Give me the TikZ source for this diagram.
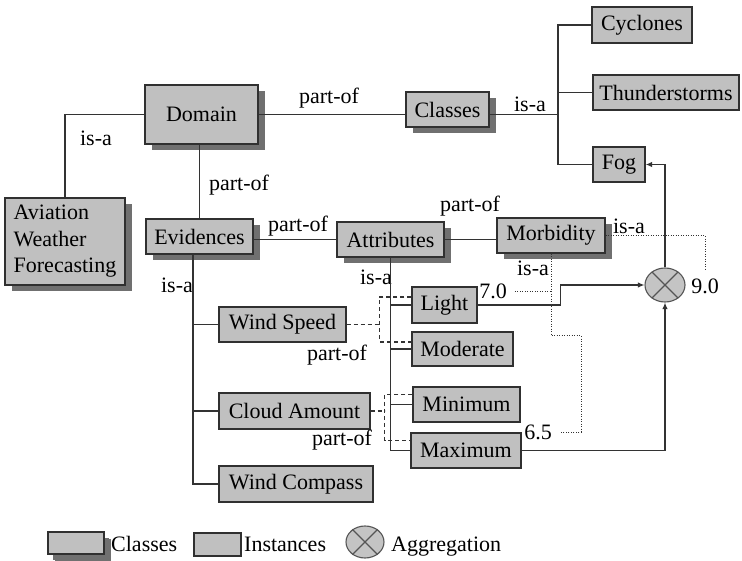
\documentclass[tikz,border=0pt]{standalone}
\usepackage{fontspec}
\setmainfont{Liberation Serif}
\usetikzlibrary{shadows,shapes.geometric,arrows.meta}
\definecolor{boxfill}{HTML}{C0C0C0}
\definecolor{boxedge}{HTML}{303030}
\definecolor{shade}{HTML}{707070}
\definecolor{wire}{HTML}{333333}
\definecolor{aggfill}{HTML}{C4C4C4}
\definecolor{aggedge}{HTML}{555555}

\tikzset{
  base/.style={draw=boxedge, line width=1.4pt, fill=boxfill, inner sep=0pt,
               font=\fontsize{22}{26.5}\selectfont},
  inst/.style={base},
  cls/.style={base, drop shadow={shadow xshift=6.5pt, shadow yshift=-6.5pt,
               fill=shade, opacity=1}},
  aggnode/.style={ellipse, draw=aggedge, line width=1.1pt, fill=aggfill, inner sep=0pt},
  crossline/.style={draw=aggedge, line width=1.1pt},
  lbl/.style={inner sep=0pt, font=\fontsize{22}{24}\selectfont},
  link/.style={draw=wire, line width=1.2pt},
  dashlink/.style={draw=wire, line width=1.1pt, dash pattern=on 4pt off 3pt},
  dotlink/.style={draw=wire, line width=0.9pt, dash pattern=on 1pt off 1.5pt},
  arr/.style={link, -{Latex[length=6.5pt,width=5.5pt]}},
}

\begin{document}
\begin{tikzpicture}[x=1pt,y=-1pt]
\useasboundingbox (0,0) rectangle (742,561);
\fill[white] (0,0) rectangle (742,561);

% ---- classes (shadowed boxes) ----
\node[cls, minimum width=113, minimum height=59] (domain) at (201.5,114.5) {Domain};
\node[cls, minimum width=120, minimum height=87, align=left] (avi) at (65,241.5)
  {Aviation\\Weather\\Forecasting};
\node[cls, minimum width=83, minimum height=35] (classes) at (447.5,109.5) {Classes};
\node[cls, minimum width=107, minimum height=35] (evid) at (199.5,236.5) {Evidences};
\node[cls, minimum width=107, minimum height=35] (attr) at (390.5,239.5) {Attributes};
\node[cls, minimum width=108, minimum height=35] (morb) at (551,235.5) {Morbidity};

% ---- instances ----
\node[inst, minimum width=100, minimum height=36] (cyc) at (642,25) {Cyclones};
\node[inst, minimum width=146, minimum height=35] (thu) at (666,92.5) {Thunderstorms};
\node[inst, minimum width=52, minimum height=35] (fog) at (619,164.5) {Fog};
\node[inst, minimum width=127, minimum height=35] (ws) at (282.5,324.5) {Wind Speed};
\node[inst, minimum width=151, minimum height=36] (ca) at (294.5,411) {Cloud Amount};
\node[inst, minimum width=154, minimum height=36] (wc) at (296,484) {Wind Compass};
\node[inst, minimum width=65, minimum height=36] (light) at (444.5,305) {Light};
\node[inst, minimum width=101, minimum height=34] (mod) at (462.5,349) {Moderate};
\node[inst, minimum width=107, minimum height=35] (min) at (466.5,404.5) {Minimum};
\node[inst, minimum width=110, minimum height=35] (max) at (466,450.5) {Maximum};

% ---- aggregation ----
\node[aggnode, minimum width=40, minimum height=34] (agg) at (665,285) {};
\draw[crossline] (agg.45) -- (agg.225) (agg.135) -- (agg.315);

% ---- relation labels ----
\node[lbl] (l1) at (96,138) {is-a};
\node[lbl] (l2) at (239,185) {part-of};
\node[lbl] (l3) at (329,98) {part-of};
\node[lbl] (l4) at (530,104) {is-a};
\node[lbl] (l5) at (298,226) {part-of};
\node[lbl] (l6) at (470,206) {part-of};
\node[lbl] (l7) at (629,226) {is-a};
\node[lbl] (l8) at (533,268) {is-a};
\node[lbl] (l9) at (376,277) {is-a};
\node[lbl] (l10) at (177,285) {is-a};
\node[lbl] (l11) at (337,355) {part-of};
\node[lbl] (l12) at (342,440) {part-of};
\node[lbl] (n70) at (493,291) {7.0};
\node[lbl] (n65) at (538,432) {6.5};
\node[lbl] (n90) at (705,286) {9.0};

% ---- structural links ----
\draw[link] (domain.west) -| (avi.north);
\draw[link] (evid.north) -- (evid.north |- domain.south);
\draw[link] (domain.east) -- (domain.east -| classes.west);
\coordinate (cb) at (558,115);
\draw[link] (domain.east -| classes.east) -- (domain.east -| cb);
\draw[link] (cyc.west) -| (fog.west -| cb) -- (fog.west);
\draw[link] (thu.west) -- (thu.west -| cb);

\draw[link] (attr.west -| evid.east) -- (attr.west);
\draw[link] (attr.east) -- (attr.east -| morb.west);

\coordinate (et) at ([xshift=-6.5pt]evid.south);
\draw[link] (et) |- (wc.west);
\draw[link] (ws.west) -- (ws.west -| et);
\draw[link] (ca.west) -- (ca.west -| et);

\draw[link] (attr.south) |- (max.west);
\draw[link] (light.west) -- (light.west -| attr.south);
\draw[link] (mod.west) -- (mod.west -| attr.south);
\draw[link] (min.west) -- (min.west -| attr.south);

% ---- part-of groupings (dashed) ----
\path (ws.east) ++(33,0) coordinate (wsd);
\draw[dashlink] (ws.east) -- (wsd);
\draw[dashlink] ([yshift=8pt]light.west) -| (wsd) |- ([yshift=7pt]mod.west);
\path (ca.east) ++(14,0) coordinate (cad);
\draw[dashlink] (ca.east) -- (cad);
\draw[dashlink] ([yshift=10pt]min.west) -| (cad) |- ([yshift=10pt]max.west);

% ---- weights (dotted) ----
\path (morb.south) ++(0,82) coordinate (mc);
\draw[dotlink] (morb.south) -- (mc) -- ++(30,0) |- ([xshift=8pt]n65.east);
\draw[dotlink] ([xshift=8pt]n70.east) -- (n70.east -| morb.south);
\draw[dotlink] (morb.east) -| ([yshift=9pt]n90.north);

% ---- aggregation arrows ----
\draw[arr] (light.east) -- ++(83,0) |- (agg.west);
\draw[arr] (max.east) -| (agg.south);
\draw[arr] (agg.north) |- (fog.east);

% ---- legend ----
\node[cls, minimum width=56, minimum height=22, drop shadow={shadow xshift=5pt, shadow yshift=-6pt, fill=shade, opacity=1}] (lc) at (76,543) {};
\node[lbl, anchor=base west] (lct) at (111,551) {Classes};
\node[inst, minimum width=47, minimum height=23] (li) at (217.5,544.5) {};
\node[lbl, anchor=base west] (lit) at (244,551) {Instances};
\node[aggnode, minimum width=38, minimum height=32] (la) at (365,542) {};
\draw[crossline] (la.45) -- (la.225) (la.135) -- (la.315);
\node[lbl, anchor=base west] (lat) at (391,551) {Aggregation};
\end{tikzpicture}
\end{document}
